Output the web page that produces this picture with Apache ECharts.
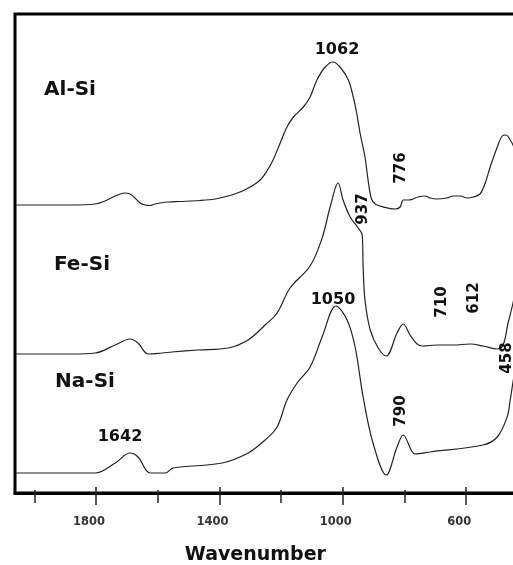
<!DOCTYPE html>
<html>
<head>
<meta charset="utf-8">
<script src="https://cdn.jsdelivr.net/npm/echarts@6/dist/echarts.min.js"></script>
<style>
html,body{margin:0;padding:0;background:#fff;overflow:hidden;}
#chart{width:540px;height:565px;}
</style>
</head>
<body>
<div id="chart"></div>
<script>
// Wavenumber (cm-1) vs transmittance (arbitrary units, offset per sample)
const alSi = [[2062,288],[1884,288],[1803,289],[1771,292],[1738,297],[1706,300],[1690,299],[1674,295],[1657,290],[1641,288],[1625,287.5],[1609,289],[1592,290],[1566,291],[1528,291.5],[1463,292.5],[1414,294],[1372,297],[1333,301],[1300,306],[1268,313],[1246,322],[1226,333],[1203,350],[1181,366],[1160,376],[1128,386],[1106,396],[1084,413],[1057,426],[1032,431],[1009,426],[982,413],[966,396],[955,380],[944,360],[928,336],[918,313],[907,294],[895,289],[869,286],[830,284],[814,286],[804,293],[788,293],[772,294],[756,296],[733,297],[717,295],[694,294],[662,295],[642,297],[619,297],[597,295],[577,296],[555,299],[538,310],[522,326],[499,346],[483,357],[470,358],[457,353],[448,348],[431,333]];
const feSi = [[2062,139],[1884,139],[1803,140],[1738,148],[1690,154],[1664,150],[1631,139],[1586,140],[1554,141],[1469,143],[1372,145],[1307,153],[1252,168],[1213,180],[1171,205],[1106,227],[1067,255],[1041,286],[1015,310],[999,293],[976,276],[950,265],[937,258],[934,226],[928,193],[911,163],[885,145],[859,137],[824,160],[804,169],[782,158],[759,149],[743,147],[694,148],[642,148],[587,149],[545,147],[499,144],[480,148],[464,170],[448,190],[431,218]];
const naSi = [[2062,20],[1884,20],[1803,20],[1738,30],[1690,40],[1664,36],[1625,20],[1576,20],[1550,25],[1391,30],[1307,40],[1252,53],[1213,66],[1181,93],[1148,110],[1106,126],[1067,156],[1022,187],[986,173],[960,146],[934,96],[902,50],[859,18],[824,46],[804,58],[765,39],[717,41],[545,48],[499,56],[467,76],[457,93],[448,111],[431,143]];
const majorTicks = [1800, 1400, 1000, 600];
const minorTicks = [2000, 1600, 1200, 800];
const seriesNames = ['Al-Si', 'Fe-Si', 'Na-Si'];
const peakLabels = ['1062', '937', '776', '1050', '710', '612', '458', '790', '1642'];
const axisTitle = 'Wavenumber';

const FONT = '"DejaVu Sans", sans-serif';
const chart = echarts.init(document.getElementById('chart'), null, {renderer: 'canvas'});

function txt(text, x, y, size, rot) {
  return {type: 'text', x: x, y: y, rotation: rot ? Math.PI / 2 : 0, z: 100,
    style: {text: text, font: 'bold ' + size + 'px ' + FONT, fill: '#111', align: 'center', verticalAlign: 'middle'}};
}

const baseX = {type: 'value', inverse: true, min: 400, max: 2063, interval: 200, gridIndex: 0,
  position: 'bottom', splitLine: {show: false}};

chart.setOption({
  animation: false,
  backgroundColor: '#fff',
  grid: {left: 15, top: 14, width: 512.8, height: 479, show: true, borderColor: '#000', borderWidth: 3, containLabel: false, outerBoundsMode: 'none'},
  xAxis: [
    Object.assign({}, baseX, {
      axisLine: {show: true, onZero: false, lineStyle: {color: '#000', width: 3}},
      axisTick: {show: true, customValues: majorTicks, length: 12, lineStyle: {color: '#222', width: 1.5}},
      axisLabel: {show: true, customValues: majorTicks, formatter: v => String(v), margin: 23, fontSize: 11.5, fontWeight: 'bold', color: '#333', fontFamily: FONT, padding: [0, 14, 0, 0]},
      name: axisTitle, nameLocation: 'middle', nameGap: 53,
      nameTextStyle: {fontSize: 19, fontWeight: 'bold', color: '#111', fontFamily: FONT, padding: [0, 32, 0, 0]}
    }),
    Object.assign({}, baseX, {
      axisLine: {show: false, onZero: false},
      axisTick: {show: true, customValues: minorTicks, length: 10, lineStyle: {color: '#222', width: 1.5}},
      axisLabel: {show: false}
    }),
    Object.assign({}, baseX, {
      axisLine: {show: false, onZero: false},
      axisTick: {show: true, inside: true, customValues: majorTicks, length: 6, lineStyle: {color: '#222', width: 1.5}},
      axisLabel: {show: false}
    }),
    Object.assign({}, baseX, {
      axisLine: {show: false, onZero: false},
      axisTick: {show: true, inside: true, customValues: minorTicks, length: 3, lineStyle: {color: '#222', width: 1.5}},
      axisLabel: {show: false}
    })
  ],
  yAxis: {type: 'value', min: 0, max: 479, show: true, axisLine: {show: false}, axisTick: {show: false}, axisLabel: {show: false}, splitLine: {show: false}},
  series: [alSi, feSi, naSi].map((d, i) => ({
    name: seriesNames[i], type: 'line', data: d, xAxisIndex: 0, yAxisIndex: 0,
    showSymbol: false, smooth: 0.35, clip: true,
    lineStyle: {color: '#222', width: 1.2}
  })),
  graphic: [
    txt(seriesNames[0], 70, 90, 20, false),
    txt(seriesNames[1], 82, 265, 20, false),
    txt(seriesNames[2], 85, 382, 20, false),
    txt(peakLabels[0], 337, 50, 16, false),
    txt(peakLabels[1], 363, 209, 15, true),
    txt(peakLabels[2], 401, 168, 15, true),
    txt(peakLabels[3], 333, 300, 16, false),
    txt(peakLabels[4], 442, 302, 15, true),
    txt(peakLabels[5], 474, 298, 15, true),
    txt(peakLabels[6], 507, 358, 15, true),
    txt(peakLabels[7], 401, 411, 15, true),
    txt(peakLabels[8], 120, 437, 16, false)
  ]
});
</script>
</body>
</html>
